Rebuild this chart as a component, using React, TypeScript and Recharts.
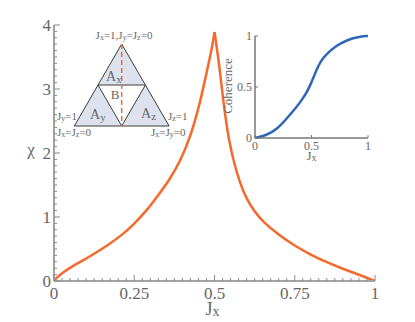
import React from 'react';
import { LineChart, Line, XAxis, YAxis } from 'recharts';

// ---------- data ----------
const leftJx = [0, 0.01, 0.03, 0.06, 0.09, 0.13, 0.17, 0.21, 0.25, 0.29, 0.32, 0.36, 0.395, 0.425, 0.456, 0.477, 0.49, 0.5];
const leftChi = [0, 0.06, 0.14, 0.24, 0.32, 0.44, 0.57, 0.71, 0.89, 1.11, 1.31, 1.58, 1.89, 2.25, 2.8, 3.3, 3.58, 3.89];
const rightJx = [0.5, 0.513, 0.524, 0.534, 0.545, 0.56, 0.58, 0.6, 0.625, 0.65, 0.7, 0.75, 0.8, 0.85, 0.9, 0.95, 1];
const rightChi = [3.89, 3.45, 2.96, 2.56, 2.2, 1.86, 1.52, 1.28, 1.08, 0.93, 0.72, 0.55, 0.41, 0.29, 0.19, 0.1, 0];

const insetJx = [0, 0.1, 0.2, 0.28, 0.35, 0.4, 0.45, 0.49, 0.52, 0.56, 0.6, 0.65, 0.725, 0.8, 0.87, 0.93, 1];
const insetCoh = [0, 0.025, 0.09, 0.19, 0.28, 0.35, 0.43, 0.52, 0.6, 0.71, 0.78, 0.84, 0.91, 0.95, 0.98, 0.995, 1];

const xMajor = [0, 0.25, 0.5, 0.75, 1];
const xMajorLabels = ['0', '0.25', '0.5', '0.75', '1'];
const yMajor = [0, 1, 2, 3, 4];
const yMajorLabels = ['0', '1', '2', '3', '4'];
const insetMajor = [0, 0.5, 1];
const insetMajorLabels = ['0', '0.5', '1'];

const xAllTicks = Array.from({ length: 41 }, (_, i) => +(i * 0.025).toFixed(4));
const yAllTicks = Array.from({ length: 41 }, (_, i) => +(i * 0.1).toFixed(4));

const leftData = leftJx.map((x, i) => ({ jx: x, chi: leftChi[i] }));
const rightData = rightJx.map((x, i) => ({ jx: x, chi: rightChi[i] }));
const insetData = insetJx.map((x, i) => ({ jx: x, coh: insetCoh[i] }));

// ---------- styles ----------
const FONT = "'Liberation Serif', 'Times New Roman', serif";
const TEXT = '#666';
const AXIS = '#a3a3a3';
const TICK = '#8a8a8a';
const ORANGE = '#f4692c';
const BLUE = '#2f66b8';

type Side = 'bottom' | 'top' | 'left' | 'right';

const makeTick = (
  side: Side,
  majors: number[],
  labels: string[] | null,
  majorLen: number,
  minorLen: number,
  fontSize: number,
  color: string,
  labelOffset: number
) => (props: any) => {
  const { x, y, payload } = props;
  const v = payload.value;
  const idx = majors.findIndex((m) => Math.abs(m - v) < 1e-6);
  const len = idx >= 0 ? majorLen : minorLen;
  let x2 = x, y2 = y;
  if (side === 'bottom') y2 = y - len;
  if (side === 'top') y2 = y + len;
  if (side === 'left') x2 = x + len;
  if (side === 'right') x2 = x - len;
  return (
    <g>
      {len > 0 && <line x1={x} y1={y} x2={x2} y2={y2} stroke={color} strokeWidth={1} />}
      {labels && idx >= 0 && side === 'bottom' && (
        <text x={x} y={y + labelOffset} textAnchor="middle" fontSize={fontSize} fontFamily={FONT} fill={TEXT}>
          {labels[idx]}
        </text>
      )}
      {labels && idx >= 0 && side === 'left' && (
        <text x={x - labelOffset} y={y + fontSize * 0.34} textAnchor="end" fontSize={fontSize} fontFamily={FONT} fill={TEXT}>
          {labels[idx]}
        </text>
      )}
    </g>
  );
};

// text with subscripts: parts = [text, isSub]
const SubText = ({ x, y, parts, size, subSize, anchor = 'start', color = TEXT, drop = 0.12 }: any) => {
  const out: any[] = [];
  let shifted = false;
  parts.forEach((p: [string, boolean], i: number) => {
    const [t, sub] = p;
    let dy = 0;
    if (sub && !shifted) { dy = size * drop; shifted = true; }
    else if (!sub && shifted) { dy = -size * drop; shifted = false; }
    out.push(
      <tspan key={i} dy={dy} fontSize={sub ? subSize : size}>
        {t}
      </tspan>
    );
  });
  return (
    <text x={x} y={y} textAnchor={anchor} fontFamily={FONT} fill={color} fontSize={size}>
      {out}
    </text>
  );
};

const MainXLabel = (props: any) => {
  const vb = props.viewBox || {};
  return <SubText x={vb.x + vb.width / 2 - 2} y={vb.y + 34} parts={[['J', false], ['x', true]]} size={18} subSize={14} anchor="middle" drop={0.05} />;
};
const MainYLabel = (props: any) => {
  const vb = props.viewBox || {};
  return (
    <text x={vb.x + 31} y={vb.y + vb.height / 2 + 2} textAnchor="middle" fontFamily={FONT} fontSize={17} fill={TEXT}>
      χ
    </text>
  );
};
const InsetXLabel = (props: any) => {
  const vb = props.viewBox || {};
  return <SubText x={vb.x + vb.width / 2} y={vb.y + 22} parts={[['J', false], ['x', true]]} size={13} subSize={10} anchor="middle" drop={0.08} />;
};
const InsetYLabel = (props: any) => {
  const vb = props.viewBox || {};
  const cx = vb.x + 17;
  const cy = vb.y + vb.height / 2 - 1;
  return (
    <text x={cx} y={cy} transform={`rotate(-90 ${cx} ${cy})`} textAnchor="middle" fontFamily={FONT} fontSize={13} fill={TEXT}>
      Coherence
    </text>
  );
};

const Diagram = () => {
  const apex = [121.7, 44];
  const bl = [74.3, 126];
  const br = [169.1, 126];
  const ml = [(apex[0] + bl[0]) / 2, (apex[1] + bl[1]) / 2];
  const mr = [(apex[0] + br[0]) / 2, (apex[1] + br[1]) / 2];
  const mb = [(bl[0] + br[0]) / 2, bl[1]];
  const pts = (a: number[][]) => a.map((p) => p.join(',')).join(' ');
  const fill = '#dde3ee';
  const stroke = '#3a3a3a';
  return (
    <svg width={415} height={322} style={{ position: 'absolute', left: 0, top: 0, pointerEvents: 'none' }}>
      <polygon points={pts([apex, ml, mr])} fill={fill} stroke={stroke} strokeWidth={1} />
      <polygon points={pts([ml, bl, mb])} fill={fill} stroke={stroke} strokeWidth={1} />
      <polygon points={pts([mr, mb, br])} fill={fill} stroke={stroke} strokeWidth={1} />
      <line x1={apex[0]} y1={apex[1]} x2={mb[0]} y2={mb[1]} stroke={ORANGE} strokeWidth={1.5} strokeDasharray="5,3" />
      <SubText x={124} y={39} parts={[['J', false], ['x', true], ['=1,J', false], ['y', true], ['=J', false], ['z', true], ['=0', false]]} size={11} subSize={8} anchor="middle" />
      <SubText x={106} y={81} parts={[['A', false], ['x', true]]} size={14} subSize={11} />
      <text x={115} y={99} textAnchor="middle" fontFamily={FONT} fontSize={13} fill={TEXT}>B</text>
      <SubText x={90} y={119} parts={[['A', false], ['y', true]]} size={14} subSize={11} />
      <SubText x={141} y={118} parts={[['A', false], ['z', true]]} size={14} subSize={11} />
      <SubText x={57} y={120} parts={[['J', false], ['y', true], ['=1', false]]} size={11} subSize={8} />
      <SubText x={57} y={136} parts={[['J', false], ['x', true], ['=J', false], ['z', true], ['=0', false]]} size={11} subSize={8} />
      <SubText x={168} y={120} parts={[['J', false], ['z', true], ['=1', false]]} size={11} subSize={8} />
      <SubText x={151} y={136} parts={[['J', false], ['x', true], ['=J', false], ['y', true], ['=0', false]]} size={11} subSize={8} />
    </svg>
  );
};

export default function App() {
  return (
    <div style={{ position: 'absolute', left: 0, top: 0, width: 415, height: 322, background: '#fff' }}>
      <div style={{ position: 'absolute', left: 0, top: 0 }}>
        <LineChart width={415} height={322} margin={{ top: 25, right: 40, bottom: 0, left: 0 }}>
          <XAxis
            xAxisId="b"
            dataKey="jx"
            type="number"
            domain={[0, 1]}
            ticks={xAllTicks}
            interval={0}
            orientation="bottom"
            height={41}
            tickSize={0}
            tickMargin={0}
            tickLine={false}
            axisLine={{ stroke: AXIS, strokeWidth: 2 }}
            tick={makeTick('bottom', xMajor, xMajorLabels, 6, 3, 17, TICK, 18)}
            label={{ content: MainXLabel }}
          />
          <XAxis
            xAxisId="t"
            type="number"
            domain={[0, 1]}
            ticks={xAllTicks}
            interval={0}
            orientation="top"
            height={0}
            tickSize={0}
            tickMargin={0}
            tickLine={false}
            axisLine={{ stroke: AXIS, strokeWidth: 1.5 }}
            tick={makeTick('top', xMajor, null, 6, 3, 17, TICK, 0)}
          />
          <YAxis
            yAxisId="l"
            type="number"
            domain={[0, 4]}
            ticks={yAllTicks}
            interval={0}
            orientation="left"
            width={54}
            tickSize={0}
            tickMargin={0}
            tickLine={false}
            axisLine={{ stroke: AXIS, strokeWidth: 2 }}
            tick={makeTick('left', yMajor, yMajorLabels, 6, 3, 17, TICK, 3)}
            label={{ content: MainYLabel }}
          />
          <YAxis
            yAxisId="r"
            type="number"
            domain={[0, 4]}
            ticks={yAllTicks}
            interval={0}
            orientation="right"
            width={0}
            tickSize={0}
            tickMargin={0}
            tickLine={false}
            axisLine={{ stroke: AXIS, strokeWidth: 1.5 }}
            tick={makeTick('right', yMajor, null, 6, 3, 17, TICK, 0)}
          />
          <Line xAxisId="b" yAxisId="l" data={leftData} dataKey="chi" type="basis" stroke={ORANGE} strokeWidth={2.5} dot={false} isAnimationActive={false} />
          <Line xAxisId="b" yAxisId="l" data={rightData} dataKey="chi" type="basis" stroke={ORANGE} strokeWidth={2.5} dot={false} isAnimationActive={false} />
        </LineChart>
      </div>
      <Diagram />
      <div style={{ position: 'absolute', left: 215, top: 20 }}>
        <LineChart width={160} height={150} margin={{ top: 16, right: 7, bottom: 10, left: 0 }}>
          <XAxis
            xAxisId="b"
            dataKey="jx"
            type="number"
            domain={[0, 1]}
            ticks={insetMajor}
            interval={0}
            orientation="bottom"
            height={22}
            tickSize={0}
            tickMargin={0}
            tickLine={false}
            axisLine={{ stroke: '#777', strokeWidth: 1.5 }}
            tick={makeTick('bottom', insetMajor, insetMajorLabels, 3, 0, 12, '#777', 12)}
            label={{ content: InsetXLabel }}
          />
          <XAxis
            xAxisId="t"
            type="number"
            domain={[0, 1]}
            ticks={insetMajor}
            interval={0}
            orientation="top"
            height={0}
            tickSize={0}
            tickMargin={0}
            tickLine={false}
            axisLine={{ stroke: '#777', strokeWidth: 1.5 }}
            tick={makeTick('top', insetMajor, null, 3, 0, 12, '#777', 0)}
          />
          <YAxis
            yAxisId="l"
            type="number"
            domain={[0, 1]}
            ticks={insetMajor}
            interval={0}
            orientation="left"
            width={40}
            tickSize={0}
            tickMargin={0}
            tickLine={false}
            axisLine={{ stroke: '#777', strokeWidth: 1.5 }}
            tick={makeTick('left', insetMajor, insetMajorLabels, 3, 0, 12, '#777', 3)}
            label={{ content: InsetYLabel }}
          />
          <YAxis
            yAxisId="r"
            type="number"
            domain={[0, 1]}
            ticks={insetMajor}
            interval={0}
            orientation="right"
            width={0}
            tickSize={0}
            tickMargin={0}
            tickLine={false}
            axisLine={{ stroke: '#777', strokeWidth: 1.5 }}
            tick={makeTick('right', insetMajor, null, 3, 0, 12, '#777', 0)}
          />
          <Line xAxisId="b" yAxisId="l" data={insetData} dataKey="coh" type="basis" stroke={BLUE} strokeWidth={2.5} dot={false} isAnimationActive={false} />
        </LineChart>
      </div>
    </div>
  );
}
